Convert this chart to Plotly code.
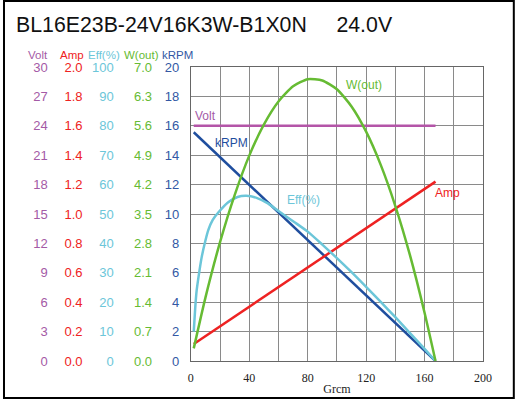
import plotly.graph_objects as go

# ---------------- data ----------------
title_model = "BL16E23B-24V16K3W-B1X0N"
title_volt = "24.0V"

torque_line = [2, 167.5]                 # g·cm, straight series end points
volt_vals = [24.0, 24.0]
amp_vals = [0.116, 1.22]
krpm_vals = [15.56, 0.0]

torque_w = [2, 10, 20, 30, 40, 50, 60, 70, 80, 90, 100, 110, 120, 130, 140, 150, 160, 167.5]
wout_vals = [0.30, 1.51, 2.83, 3.95, 4.89, 5.63, 6.18, 6.54, 6.71, 6.68, 6.47, 6.06, 5.46, 4.67, 3.69, 2.52, 1.15, 0.0]

torque_eff = [2, 3, 4, 6, 7.5, 10, 12, 15, 18.8, 25.6, 32, 38, 45, 52.8, 60, 71, 80, 90, 100, 110, 120, 130, 140, 150, 160, 167.5]
eff_vals = [10, 18, 24, 31, 35.5, 41, 44.6, 48, 50.5, 54, 55.8, 56.2, 55.5, 53.6, 51, 47.2, 44, 39.6, 35, 30.2, 25.2, 20.1, 14.9, 9.5, 4.1, 0]

volt_ticks = [0, 3, 6, 9, 12, 15, 18, 21, 24, 27, 30]
amp_ticks = [0.0, 0.2, 0.4, 0.6, 0.8, 1.0, 1.2, 1.4, 1.6, 1.8, 2.0]
eff_ticks = [0, 10, 20, 30, 40, 50, 60, 70, 80, 90, 100]
w_ticks = [0.0, 0.7, 1.4, 2.1, 2.8, 3.5, 4.2, 4.9, 5.6, 6.3, 7.0]
krpm_ticks = [0, 2, 4, 6, 8, 10, 12, 14, 16, 18, 20]
x_ticks = [0, 40, 80, 120, 160, 200]

# ---------------- styling ----------------
C_VOLT = "#B455A8"
C_AMP = "#EE2222"
C_EFF = "#6CC6D9"
C_W = "#66BB33"
C_RPM = "#1F4E9E"
C_VOLT_T = "#A45AA6"
C_RPM_T = "#3358A4"

W, H = 516, 400
ML, MR, MT, MB = 0, 33, 67, 39
PW = W - ML - MR           # paper width in px
PH = H - MT - MB           # paper height in px
PLOT_L = 189

def px_x(p):
    return (p - ML) / PW

def px_y(p):
    return (H - MB - p) / PH

SANS = "Liberation Sans, Arial, sans-serif"
SERIF = "Liberation Serif, Times New Roman, serif"

fig = go.Figure()

fig.add_trace(go.Scatter(x=torque_line, y=volt_vals, yaxis="y2", mode="lines",
                         line=dict(color=C_VOLT, width=2.5)))
fig.add_trace(go.Scatter(x=torque_line, y=amp_vals, yaxis="y3", mode="lines",
                         line=dict(color=C_AMP, width=2.5)))
fig.add_trace(go.Scatter(x=torque_eff, y=eff_vals, yaxis="y4", mode="lines",
                         line=dict(color=C_EFF, width=2.5, shape="spline", smoothing=0.6)))
fig.add_trace(go.Scatter(x=torque_w, y=wout_vals, yaxis="y5", mode="lines",
                         line=dict(color=C_W, width=2.5, shape="spline", smoothing=0.6)))
fig.add_trace(go.Scatter(x=torque_line, y=krpm_vals, yaxis="y", mode="lines",
                         line=dict(color=C_RPM, width=2.5)))

def free_axis(rng, ticks, fmt, color, pos):
    return dict(range=rng, overlaying="y", anchor="free", position=pos,
                tickvals=ticks, ticktext=[fmt.format(t) for t in ticks],
                showgrid=False, zeroline=False, showline=False, ticks="",
                tickfont=dict(family=SANS, size=13, color=color), fixedrange=True)

fig.update_layout(
    width=W, height=H,
    margin=dict(l=ML, r=MR, t=MT, b=MB, pad=0),
    paper_bgcolor="white", plot_bgcolor="white",
    showlegend=False,
    title=dict(text=title_model + "\u00a0" * 5 + title_volt,
               x=16 / W, xanchor="left", xref="container",
               y=1 - 25 / H, yanchor="middle", yref="container",
               font=dict(family=SANS, size=21.3, color="#111111")),
    xaxis=dict(domain=[px_x(PLOT_L), 1], range=[0, 200],
               tickvals=x_ticks, ticktext=[str(t) for t in x_ticks],
               showgrid=True, gridcolor="#8a8a8a", gridwidth=1,
               minor=dict(dtick=20, showgrid=True, gridcolor="#8a8a8a", gridwidth=1, ticks=""),
               showline=True, linecolor="#666666", linewidth=1, mirror=True,
               zeroline=False, ticks="", ticklabelstandoff=6,
               tickfont=dict(family=SERIF, size=12, color="#222222"),
               title=dict(text="Grcm", font=dict(family=SERIF, size=12, color="#222222"), standoff=0)),
    yaxis=dict(range=[0, 20], tickvals=krpm_ticks, ticktext=[str(t) for t in krpm_ticks],
               showgrid=True, gridcolor="#8a8a8a", gridwidth=1,
               showline=True, linecolor="#666666", linewidth=1, mirror=True,
               zeroline=False, ticks="", ticklabelstandoff=8,
               tickfont=dict(family=SANS, size=13, color=C_RPM_T)),
    yaxis2=free_axis([0, 30], volt_ticks, "{:d}", C_VOLT_T, px_x(45)),
    yaxis3=free_axis([0, 2], amp_ticks, "{:.1f}", C_AMP, px_x(80)),
    yaxis4=free_axis([0, 100], eff_ticks, "{:d}", C_EFF, px_x(111.5)),
    yaxis5=free_axis([0, 7], w_ticks, "{:.1f}", C_W, px_x(150)),
)

# column headers
headers = [("Volt", 35, C_VOLT_T), ("Amp", 69, C_AMP), ("Eff(%)", 102, C_EFF),
           ("W(out)", 139, C_W), ("kRPM", 176, C_RPM_T)]
for txt, cx, col in headers:
    fig.add_annotation(text=txt, x=px_x(cx), y=px_y(55), xref="paper", yref="paper",
                       xanchor="center", yanchor="middle", showarrow=False,
                       font=dict(family=SANS, size=11.5, color=col))

# in-plot curve labels (x in g·cm, y in kRPM-axis units)
labels = [("Volt", 1.5, 16.7, C_VOLT_T), ("kRPM", 15.0, 14.8, C_RPM),
          ("Eff(%)", 64.6, 10.95, C_EFF), ("W(out)", 104.8, 18.8, C_W),
          ("Amp", 166, 11.4, C_AMP)]
for txt, xv, yv, col in labels:
    fig.add_annotation(text=txt, x=xv, y=yv, xref="x", yref="y",
                       xanchor="left", yanchor="middle", showarrow=False,
                       font=dict(family=SANS, size=12, color=col))

# outer frame
fig.add_shape(type="rect", xref="paper", yref="paper",
              x0=px_x(1), x1=px_x(514), y0=px_y(398), y1=px_y(1),
              line=dict(color="black", width=2), fillcolor="rgba(0,0,0,0)", layer="above")

fig.write_html("out.html")
